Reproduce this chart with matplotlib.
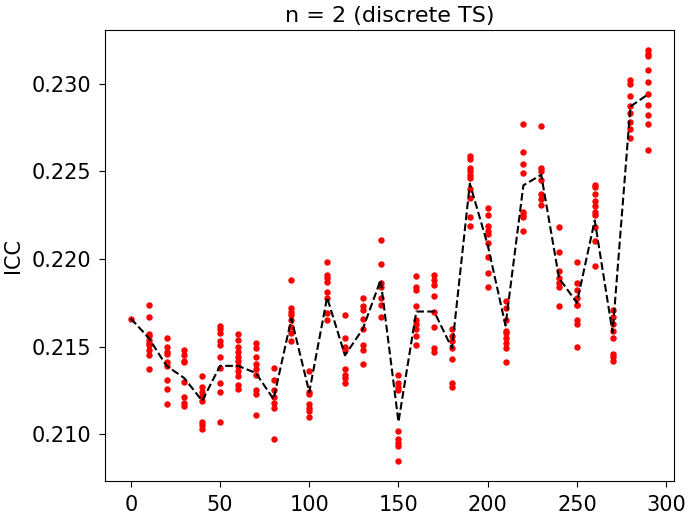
import matplotlib
matplotlib.use('Agg')
import matplotlib.pyplot as plt

# time steps and the ICC samples observed at each step
steps = [0, 10, 20, 30, 40, 50, 60, 70, 80, 90, 100, 110, 120, 130, 140,
         150, 160, 170, 180, 190, 200, 210, 220, 230, 240, 250, 260, 270, 280, 290]

icc_samples = [
    [0.2166],
    [0.2174, 0.2167, 0.2157, 0.2156, 0.2154, 0.2152, 0.2151, 0.2148, 0.2145, 0.2137],
    [0.2155, 0.2150, 0.2147, 0.2146, 0.2141, 0.2139, 0.2131, 0.2126, 0.2117],
    [0.2148, 0.2145, 0.2142, 0.2141, 0.2130, 0.2121, 0.2118, 0.2116],
    [0.2133, 0.2127, 0.2124, 0.2122, 0.2119, 0.2107, 0.2105, 0.2103],
    [0.2162, 0.2160, 0.2158, 0.2153, 0.2151, 0.2144, 0.2138, 0.2129, 0.2124, 0.2107],
    [0.2157, 0.2154, 0.2150, 0.2147, 0.2144, 0.2142, 0.2139, 0.2136, 0.2133, 0.2128, 0.2126],
    [0.2152, 0.2149, 0.2144, 0.2140, 0.2137, 0.2134, 0.2125, 0.2123, 0.2111],
    [0.2138, 0.2131, 0.2125, 0.2121, 0.2118, 0.2115, 0.2097],
    [0.2188, 0.2172, 0.2170, 0.2168, 0.2165, 0.2161, 0.2158, 0.2153],
    [0.2136, 0.2124, 0.2123, 0.2117, 0.2115, 0.2113, 0.2110],
    [0.2198, 0.2191, 0.2189, 0.2187, 0.2181, 0.2178, 0.2169, 0.2165],
    [0.2168, 0.2155, 0.2150, 0.2148, 0.2137, 0.2134, 0.2132, 0.2129],
    [0.2178, 0.2173, 0.2171, 0.2166, 0.2160, 0.2151, 0.2148, 0.2140],
    [0.2211, 0.2197, 0.2186, 0.2184, 0.2178, 0.2174, 0.2167],
    [0.2134, 0.2129, 0.2127, 0.2125, 0.2102, 0.2097, 0.2095, 0.2093, 0.2085],
    [0.2190, 0.2184, 0.2182, 0.2173, 0.2165, 0.2163, 0.2160, 0.2156, 0.2151],
    [0.2191, 0.2188, 0.2185, 0.2179, 0.2170, 0.2161, 0.2149, 0.2147],
    [0.2160, 0.2156, 0.2153, 0.2149, 0.2143, 0.2129, 0.2127],
    [0.2259, 0.2257, 0.2252, 0.2250, 0.2248, 0.2246, 0.2240, 0.2235, 0.2224, 0.2219],
    [0.2229, 0.2225, 0.2219, 0.2216, 0.2214, 0.2209, 0.2201, 0.2192, 0.2184],
    [0.2176, 0.2172, 0.2165, 0.2159, 0.2158, 0.2155, 0.2152, 0.2149, 0.2141],
    [0.2277, 0.2261, 0.2254, 0.2249, 0.2227, 0.2225, 0.2224, 0.2216],
    [0.2276, 0.2252, 0.2250, 0.2245, 0.2237, 0.2234, 0.2231],
    [0.2218, 0.2204, 0.2193, 0.2189, 0.2186, 0.2184, 0.2173],
    [0.2198, 0.2186, 0.2182, 0.2178, 0.2174, 0.2174, 0.2165, 0.2163, 0.2150],
    [0.2242, 0.2241, 0.2237, 0.2233, 0.2230, 0.2227, 0.2225, 0.2218, 0.2210, 0.2196],
    [0.2171, 0.2167, 0.2163, 0.2159, 0.2155, 0.2146, 0.2144, 0.2142],
    [0.2302, 0.2300, 0.2293, 0.2287, 0.2283, 0.2278, 0.2274, 0.2269],
    [0.2319, 0.2317, 0.2316, 0.2308, 0.2301, 0.2294, 0.2288, 0.2282, 0.2277, 0.2262],
]

# mean curve (dashed line)
icc_mean = [0.2166, 0.2155, 0.2139, 0.2132, 0.2119, 0.2139, 0.2139, 0.2135, 0.2120, 0.2166,
            0.2124, 0.2178, 0.2145, 0.2160, 0.2188, 0.2107, 0.2170, 0.2170, 0.2149, 0.2243,
            0.2208, 0.2162, 0.2242, 0.2248, 0.2189, 0.2175, 0.2222, 0.2158, 0.2287, 0.2294]

fig = plt.figure(figsize=(6.95, 5.15), dpi=100)
ax = fig.add_subplot(111)
fig.subplots_adjust(left=0.151, right=0.970, top=0.942, bottom=0.066)

for t, vals in zip(steps, icc_samples):
    ax.scatter([t] * len(vals), vals, color='red', s=13)

ax.plot(steps, icc_mean, 'k--', linewidth=1.5)

ax.set_title('n = 2 (discrete TS)', fontsize=16)
ax.set_ylabel('ICC', fontsize=15, labelpad=6)
ax.tick_params(labelsize=15, length=4.5, pad=5.5)

fig.savefig('out.png', dpi=100)
